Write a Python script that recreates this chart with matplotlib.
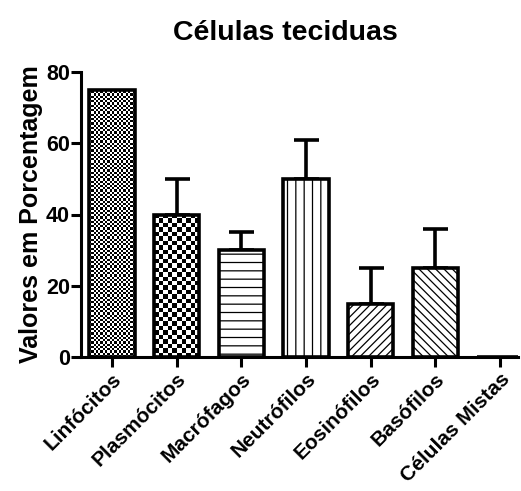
import numpy as np
import matplotlib.pyplot as plt

# dados
categorias = ['Linfócitos', 'Plasmócitos', 'Macrófagos', 'Neutrófilos',
              'Eosinófilos', 'Basófilos', 'Células Mistas']
valores = [75, 40, 30, 50, 15, 25, 0]
erros = [0, 10, 5, 11, 10, 11, 0]
yticks = [0, 20, 40, 60, 80]

# padrões de preenchimento
hachuras = [None, None, '--', '||', '////', '\\\\\\\\', '']
xadrez = {0: (20, 120), 1: (10, 32)}  # colunas, linhas

plt.rcParams['font.family'] = ['Liberation Sans', 'DejaVu Sans']
plt.rcParams['font.weight'] = 'bold'
plt.rcParams['hatch.linewidth'] = 0.9

fig = plt.figure(figsize=(5.21, 4.91), dpi=100)
ax = fig.add_axes([81/521, 1-357/491, (518-81)/521, (357-72)/491])

x = np.arange(len(categorias))
bars = ax.bar(x, valores, width=0.7, color='white', edgecolor='black',
              linewidth=2.6, zorder=3)

for i, b in enumerate(bars):
    if i in xadrez:
        b.set_facecolor('none')
        nx, ny = xadrez[i]
        board = np.indices((ny, nx)).sum(axis=0) % 2
        x0 = b.get_x()
        ax.imshow(board, extent=(x0, x0 + b.get_width(), 0, b.get_height()),
                  cmap='gray', interpolation='nearest', aspect='auto', zorder=2)
    elif hachuras[i]:
        b.set_hatch(hachuras[i])

# barras de erro só para cima
mask = np.array(erros) > 0
ax.errorbar(x[mask], np.array(valores)[mask],
            yerr=[np.zeros(mask.sum()), np.array(erros)[mask]],
            fmt='none', ecolor='black', elinewidth=2.6, capsize=9,
            capthick=2.6, zorder=1)

ax.set_xlim(-0.48, 6.28)
ax.set_ylim(0, 80)
ax.set_yticks(yticks)
ax.set_xticks(x)
ax.set_xticklabels(categorias, rotation=45, ha='right', va='top',
                   rotation_mode='anchor')

for s in ['top', 'right']:
    ax.spines[s].set_visible(False)
for s in ['left', 'bottom']:
    ax.spines[s].set_linewidth(2.2)

ax.tick_params(axis='y', length=7, width=2.2, labelsize=15.5, pad=1)
ax.tick_params(axis='x', length=7, width=2.2, labelsize=15, pad=2)

ax.set_ylabel('Valores em Porcentagem', fontsize=18, fontweight='bold', labelpad=2)
fig.text(285/521, 1 - 40/491, 'Células teciduas', fontsize=20.5,
         fontweight='bold', ha='center', va='baseline')

fig.savefig('out.png', dpi=100)
